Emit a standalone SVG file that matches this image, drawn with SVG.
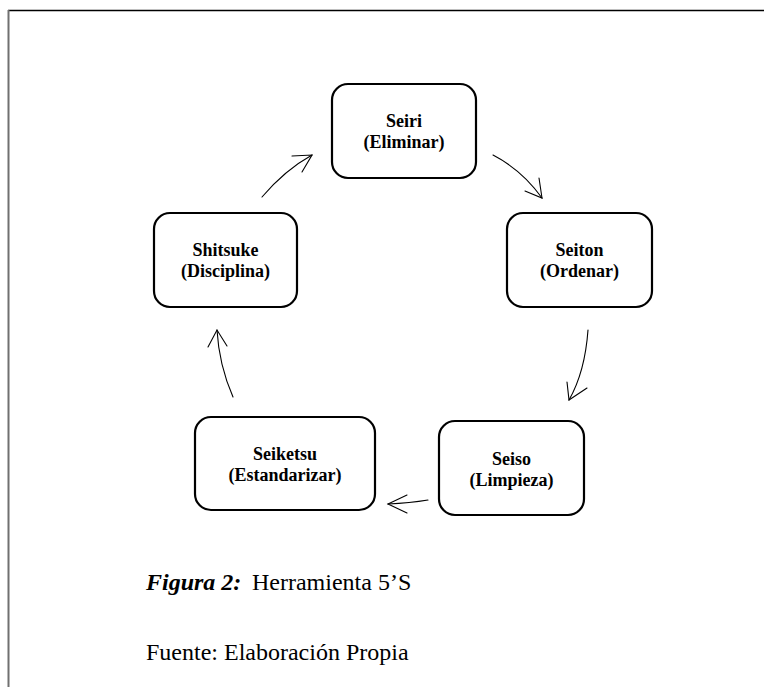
<svg xmlns="http://www.w3.org/2000/svg" width="764" height="687" viewBox="0 0 764 687">
  <defs>
    <style>
      .box { fill: #ffffff; stroke: #000000; stroke-width: 2.2; }
      .label { font-family: "Liberation Serif", "Times New Roman", serif; font-weight: bold; font-size: 18px; fill: #000000; text-anchor: middle; }
      .conn { fill: none; stroke: #000000; stroke-width: 1.1; stroke-linecap: round; }
      .cap { font-family: "Liberation Serif", "Times New Roman", serif; font-size: 24px; fill: #000000; }
    </style>
  </defs>
  <rect x="0" y="0" width="764" height="687" fill="#ffffff"/>

  <!-- page frame -->
  <g id="frame">
    <line x1="8" y1="10.5" x2="764" y2="10.5" stroke="#000000" stroke-width="1.5"/>
    <line x1="8.5" y1="10" x2="8.5" y2="687" stroke="#707070" stroke-width="2"/>
  </g>

  <!-- cycle nodes -->
  <g id="seiri">
    <rect class="box" x="332" y="84" width="144" height="94" rx="16"/>
    <text class="label" x="404" y="127">Seiri</text>
    <text class="label" x="404" y="148">(Eliminar)</text>
  </g>
  <g id="seiton">
    <rect class="box" x="507" y="213" width="145" height="94" rx="16"/>
    <text class="label" x="579.5" y="256">Seiton</text>
    <text class="label" x="579.5" y="277">(Ordenar)</text>
  </g>
  <g id="seiso">
    <rect class="box" x="439" y="421" width="145" height="94" rx="16"/>
    <text class="label" x="511.5" y="465">Seiso</text>
    <text class="label" x="511.5" y="486">(Limpieza)</text>
  </g>
  <g id="seiketsu">
    <rect class="box" x="195" y="417" width="180" height="93" rx="16"/>
    <text class="label" x="285" y="460">Seiketsu</text>
    <text class="label" x="285" y="481">(Estandarizar)</text>
  </g>
  <g id="shitsuke">
    <rect class="box" x="154" y="213" width="143" height="94" rx="16"/>
    <text class="label" x="225.5" y="256">Shitsuke</text>
    <text class="label" x="225.5" y="277">(Disciplina)</text>
  </g>

  <!-- connectors: curved lines with open arrowheads -->
  <g id="connectors">
    <path class="conn" d="M493,155 Q522,170 542,198"/>
    <path class="conn" d="M539,178 L542,198 L525,191"/>

    <path class="conn" d="M588,330 Q585,372 569,400"/>
    <path class="conn" d="M567,382 L569,400 L587,388"/>

    <path class="conn" d="M428,500 Q410,503 388,504"/>
    <path class="conn" d="M407,495 L388,504 L407,513"/>

    <path class="conn" d="M233,397 Q219,365 217,330"/>
    <path class="conn" d="M208,347 L217,330 L227,346"/>

    <path class="conn" d="M262,197 Q285,170 312,155"/>
    <path class="conn" d="M292,156 L312,155 L302,172"/>
  </g>

  <!-- caption -->
  <g id="caption">
    <text class="cap" x="146" y="590"><tspan font-weight="bold" font-style="italic">Figura 2:</tspan><tspan x="252">Herramienta 5’S</tspan></text>
    <text class="cap" x="146" y="660">Fuente: Elaboración Propia</text>
  </g>
</svg>
